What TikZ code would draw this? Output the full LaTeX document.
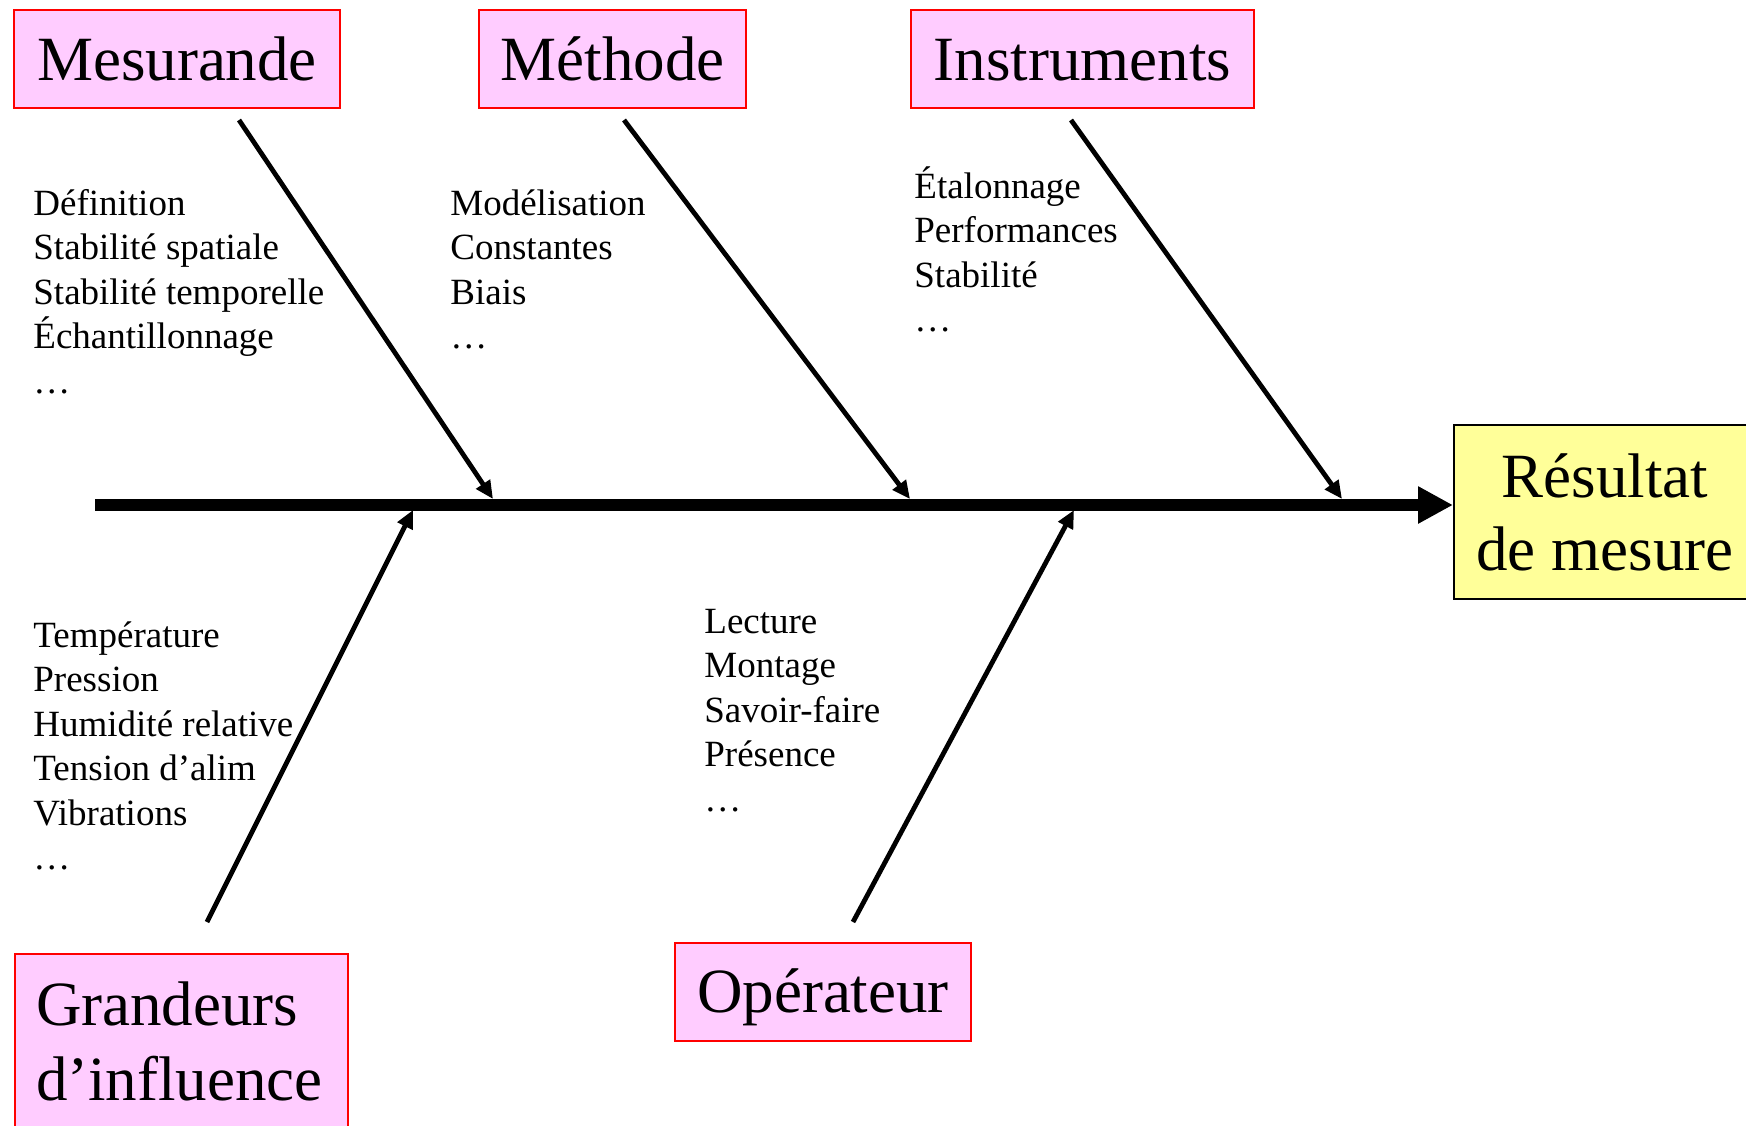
\documentclass[tikz,border=0pt]{standalone}
\usepackage{fontspec}
\setmainfont{Liberation Serif}
\usetikzlibrary{arrows.meta}
\definecolor{catpink}{RGB}{255,204,255}
\definecolor{resyellow}{RGB}{255,255,153}
\newcommand{\lstrut}{\rule{0pt}{17pt}}

\begin{document}
\begin{tikzpicture}
      [   x=0.5pt, y=-0.5pt,
          catbox/.style={draw=red,fill=catpink,line width=1pt,minimum width=#1,minimum height=49pt,
                         inner sep=0pt,text height=21pt,text depth=0pt,font=\fontsize{31.5}{36.5}\selectfont},
          resbox/.style={draw=black,fill=resyellow,line width=1pt,minimum width=151pt,minimum height=87pt,
                         inner sep=0pt,align=center,font=\fontsize{31.5}{36.5}\selectfont},
          causes/.style={anchor=north west,align=left,inner sep=0pt,font=\fontsize{18.5}{22.25}\selectfont},
          branch/.style={line width=2.4pt,-{Triangle[length=9pt,width=8pt]}},
          spine/.style={line width=6pt,-{Triangle[length=17.5pt,width=17.5pt]}},
      ]
          \useasboundingbox (0,0) rectangle (1746,1125);

          \node[catbox=163pt] (mes) at (177,59) {Mesurande};
          \node[catbox=133.5pt] (met) at (612.5,59) {Méthode};
          \node[catbox=171.5pt] (ins) at (1082.5,59) {Instruments};
          \node[catbox=148pt] (ope) at (823,991.5) {Opérateur};
          \node[draw=red,fill=catpink,line width=1pt,anchor=north west,inner xsep=10.5pt,inner ysep=9.75pt,
                text width=145.5pt,align=left,font=\fontsize{31.5}{37.5}\selectfont] (gra) at (14,953)
                {\rule{0pt}{26pt}Grandeurs\\d’influence\rule[-20pt]{0pt}{20pt}};
          \node[resbox] (res) at (1605,512) {Résultat\\de mesure};

          \node[causes] (mes-list) at (33,181) {\lstrut Définition\\Stabilité spatiale\\Stabilité temporelle\\Échantillonnage\\…};
          \node[causes] (met-list) at (450,181) {\lstrut Modélisation\\Constantes\\Biais\\…};
          \node[causes] (ins-list) at (914,164) {\lstrut Étalonnage\\Performances\\Stabilité\\…};
          \node[causes] (gra-list) at (33,613) {\lstrut Température\\Pression\\Humidité relative\\Tension d’alim\\Vibrations\\…};
          \node[causes] (ope-list) at (704,599) {\lstrut Lecture\\Montage\\Savoir-faire\\Présence\\…};

          \coordinate (spine-start) at (95,505);
          \coordinate (mes-tail) at (239,120);
          \coordinate (mes-head) at (493,499);
          \coordinate (met-tail) at (624,120);
          \coordinate (met-head) at (910,499);
          \coordinate (ins-tail) at (1071,120);
          \coordinate (ins-head) at (1342,499);
          \coordinate (gra-tail) at (207,922);
          \coordinate (gra-head) at (413,510);
          \coordinate (ope-tail) at (853,922);
          \coordinate (ope-head) at (1074,510);

          \draw[spine] (spine-start) -- (spine-start -| res.west);
          \draw[branch] (mes-tail) -- (mes-head);
          \draw[branch] (met-tail) -- (met-head);
          \draw[branch] (ins-tail) -- (ins-head);
          \draw[branch] (gra-tail) -- (gra-head);
          \draw[branch] (ope-tail) -- (ope-head);
    \end{tikzpicture}
\end{document}
